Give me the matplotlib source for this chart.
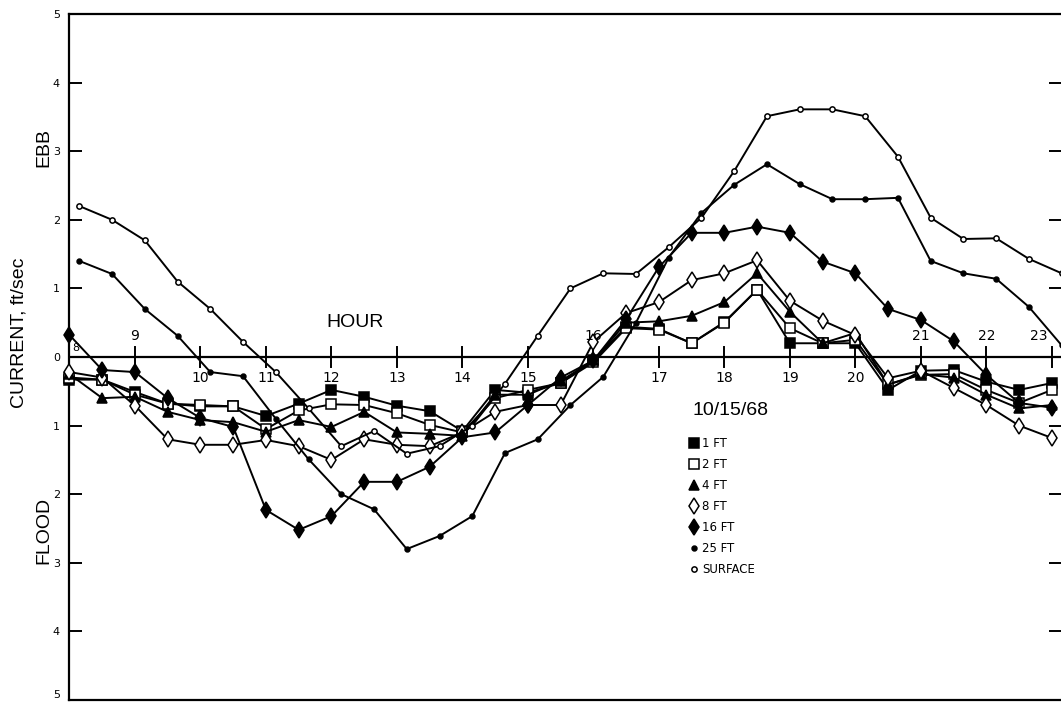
import numpy as np
import matplotlib
matplotlib.use('Agg')
import matplotlib.pyplot as plt

# sampling times (hours) - the depth readings and the surface/25 ft readings
# were taken on slightly offset half-hour schedules
T_DEPTH = [8.0, 8.5, 9.0, 9.5, 10.0, 10.5, 11.0, 11.5, 12.0, 12.5, 13.0,
           13.5, 14.0, 14.5, 15.0, 15.5, 16.0, 16.5, 17.0, 17.5, 18.0,
           18.5, 19.0, 19.5, 20.0, 20.5, 21.0, 21.5, 22.0, 22.5, 23.0]
T_SURF = [8.15, 8.65, 9.15, 9.65, 10.15, 10.65, 11.15, 11.65, 12.15, 12.65,
          13.15, 13.65, 14.15, 14.65, 15.15, 15.65, 16.15, 16.65, 17.15,
          17.65, 18.15, 18.65, 19.15, 19.65, 20.15, 20.65, 21.15, 21.65,
          22.15, 22.65, 23.15]

# current, ft/sec (ebb positive, flood negative)
FT1 = [-0.33, -0.33, -0.51, -0.68, -0.72, -0.72, -0.86, -0.68, -0.48, -0.58,
       -0.71, -0.79, -1.08, -0.48, -0.52, -0.38, -0.05, 0.44, 0.41, 0.2,
       0.51, 0.98, 0.2, 0.2, 0.2, -0.48, -0.2, -0.19, -0.36, -0.48, -0.38]
FT2 = [-0.3, -0.33, -0.55, -0.68, -0.7, -0.72, -1.05, -0.78, -0.69, -0.7,
       -0.82, -0.99, -1.1, -0.6, -0.48, -0.38, -0.08, 0.42, 0.4, 0.2,
       0.5, 0.98, 0.42, 0.2, 0.25, -0.4, -0.26, -0.25, -0.48, -0.67, -0.48]
FT4 = [-0.25, -0.6, -0.58, -0.8, -0.92, -0.95, -1.09, -0.92, -1.02, -0.8,
       -1.1, -1.12, -1.15, -0.55, -0.55, -0.35, -0.05, 0.5, 0.52, 0.6,
       0.8, 1.22, 0.66, 0.2, 0.35, -0.4, -0.25, -0.3, -0.55, -0.75, -0.7]
FT8 = [-0.22, -0.3, -0.71, -1.2, -1.28, -1.28, -1.21, -1.3, -1.5, -1.2,
       -1.28, -1.3, -1.1, -0.8, -0.7, -0.7, 0.22, 0.64, 0.8, 1.12,
       1.22, 1.41, 0.82, 0.53, 0.32, -0.31, -0.2, -0.45, -0.7, -1.0, -1.18]
FT16 = [0.32, -0.19, -0.22, -0.6, -0.89, -1.02, -2.23, -2.52, -2.32, -1.82,
        -1.82, -1.6, -1.17, -1.1, -0.7, -0.3, -0.05, 0.55, 1.31, 1.81,
        1.81, 1.9, 1.81, 1.39, 1.22, 0.7, 0.54, 0.23, -0.26, -0.67, -0.74]
FT25 = [1.40, 1.21, 0.70, 0.31, -0.22, -0.28, -0.9, -1.49, -2.0, -2.22,
        -2.8, -2.61, -2.32, -1.40, -1.2, -0.7, -0.29, 0.5, 1.45, 2.1,
        2.51, 2.81, 2.52, 2.30, 2.30, 2.32, 1.40, 1.22, 1.14, 0.73, 0.17]
SURFACE = [2.2, 2.0, 1.7, 1.1, 0.7, 0.22, -0.22, -0.75, -1.3, -1.08,
           -1.41, -1.3, -1.0, -0.39, 0.31, 1.0, 1.22, 1.21, 1.6, 2.03,
           2.71, 3.51, 3.61, 3.61, 3.51, 2.92, 2.03, 1.72, 1.73, 1.43, 1.22]

HOURS_ABOVE = [9, 16, 21, 22, 23]
HOURS_BELOW = [10, 11, 12, 13, 14, 15, 17, 18, 19, 20]

plt.rcParams['font.family'] = ['Liberation Sans Narrow', 'DejaVu Sans']
HELV = ['Liberation Sans', 'DejaVu Sans']

fig = plt.figure(figsize=(10.61, 7.03), dpi=100)
ax = fig.add_axes([0.0655, 0.0043, 0.9345, 0.9758])
ax.set_xlim(8, 23.14)
ax.set_ylim(-5, 5)

series = [
    ('1 FT', T_DEPTH, FT1, dict(marker='s', ms=6.5, mfc='black')),
    ('2 FT', T_DEPTH, FT2, dict(marker='s', ms=6.5, mfc='white')),
    ('4 FT', T_DEPTH, FT4, dict(marker='^', ms=6.5, mfc='black')),
    ('8 FT', T_DEPTH, FT8, dict(marker='d', ms=8.5, mfc='white')),
    ('16 FT', T_DEPTH, FT16, dict(marker='d', ms=8.5, mfc='black')),
    ('25 FT', T_SURF, FT25, dict(marker='o', ms=3.5, mfc='black')),
    ('SURFACE', T_SURF, SURFACE, dict(marker='o', ms=3.8, mfc='white')),
]
handles = []
for name, t, v, st in series:
    ax.plot(t, v, color='black', lw=1.4, mec='black', mew=1.1,
            clip_on=False, zorder=3, **st)
    h, = ax.plot([], [], ls='none', color='black', mec='black', mew=1.1, **st)
    handles.append(h)

# hour axis drawn along the zero line
ax.axhline(0, color='black', lw=1.6, zorder=2)
for h in HOURS_ABOVE + HOURS_BELOW:
    ax.plot([h, h], [-0.14, 0.14], color='black', lw=1.4, zorder=2)
for h in HOURS_ABOVE:
    xh = h - 0.2 if h == 23 else h
    ax.text(xh, 0.2, str(h), ha='center', va='bottom', fontsize=10)
for h in HOURS_BELOW:
    ax.text(h, -0.2, str(h), ha='center', va='top', fontsize=10)
ax.text(8.1, 0.06, '8', ha='center', va='bottom', fontsize=8)

ax.text(12.36, 0.5, 'HOUR', ha='center', va='center', fontsize=14,
        family=HELV)
ax.text(18.1, -0.78, '10/15/68', ha='center', va='center', fontsize=14,
        family=HELV)

# y axis: magnitudes only, ebb above and flood below
ax.set_xticks([])
ax.set_yticks(range(-5, 6))
ax.set_yticklabels([str(abs(v)) for v in range(-5, 6)], fontsize=8)
ax.get_yticklabels()[0].set_va('bottom')
ax.tick_params(axis='y', direction='in', length=9, width=1.4, pad=7,
               right=True)
for s in ['left', 'top', 'bottom']:
    ax.spines[s].set_linewidth(1.6)
ax.spines['right'].set_visible(False)

fig.text(0.041, 0.79, 'EBB', rotation=90, ha='center', va='center',
         fontsize=14, family=HELV)
fig.text(0.018, 0.527, 'CURRENT, ft/sec', rotation=90, ha='center',
         va='center', fontsize=14, family=HELV)
fig.text(0.041, 0.245, 'FLOOD', rotation=90, ha='center', va='center',
         fontsize=14, family=HELV)

ax.legend(handles, [s[0] for s in series], loc='upper left',
          bbox_to_anchor=(0.62, 0.392), frameon=False, fontsize=8.5,
          handlelength=0.6, handletextpad=0.4, labelspacing=0.68,
          borderpad=0)

fig.savefig('out.png', dpi=100)
